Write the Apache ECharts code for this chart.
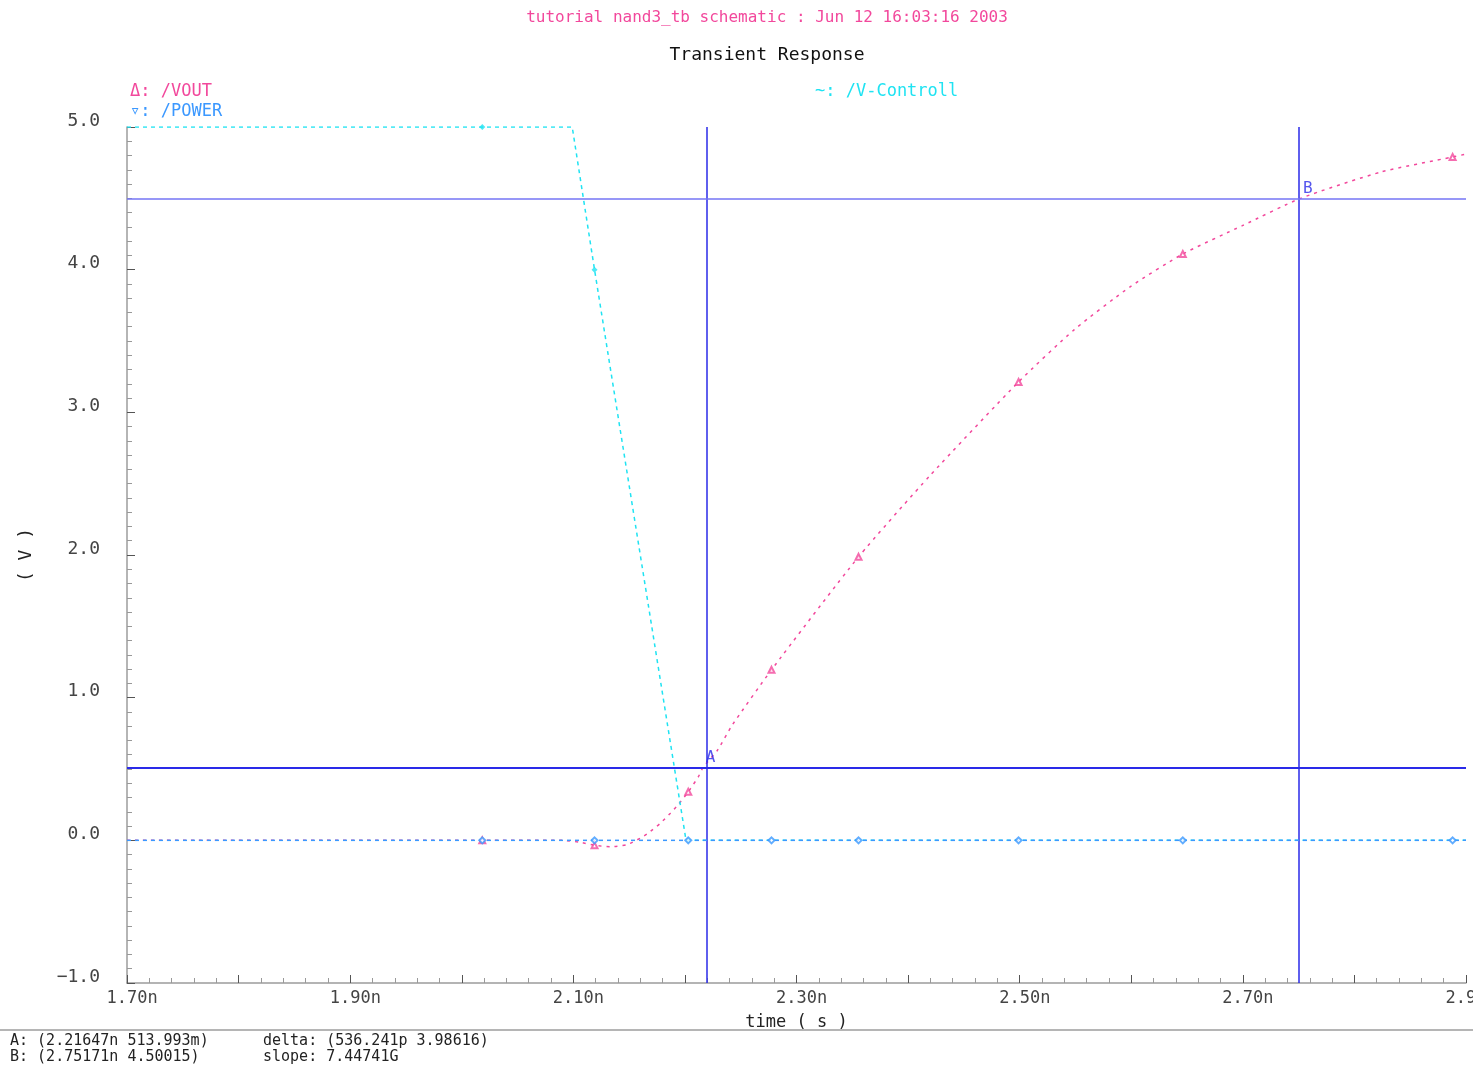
<!DOCTYPE html>
<html>
<head>
<meta charset="utf-8">
<title>Transient Response</title>
<script src="https://cdn.jsdelivr.net/npm/echarts@6/dist/echarts.min.js"></script>
<style>
  html, body { margin: 0; padding: 0; background: #fff; }
  #chart { width: 1473px; height: 1067px; }
</style>
</head>
<body>
<div id="chart"></div>
<script>
// time in ns, voltage in V
const voutTime = [1.70, 2.0184, 2.09, 2.106, 2.119, 2.133, 2.148, 2.160, 2.167, 2.178, 2.187, 2.194, 2.203, 2.212, 2.2165, 2.229, 2.2426, 2.2776, 2.3556, 2.42, 2.499, 2.549, 2.599, 2.6462, 2.70, 2.7517, 2.824, 2.888, 2.90]
const voutValue = [0, 0, 0, -0.014, -0.035, -0.045, -0.03, 0.015, 0.05, 0.12, 0.19, 0.25, 0.34, 0.445, 0.514, 0.63, 0.81, 1.195, 1.987, 2.56, 3.213, 3.58, 3.88, 4.11, 4.31, 4.50, 4.685, 4.79, 4.81]

const ctrlTime = [1.70, 2.0184, 2.099, 2.119, 2.201, 2.90]
const ctrlValue = [5, 5, 5, 4.0, 0, 0]

const powerTime = [1.70, 2.90]
const powerValue = [0, 0]

// simulation points where the viewer draws its small markers
const markerTime = [2.0184, 2.119, 2.203, 2.2776, 2.3556, 2.499, 2.6462, 2.888]
const voutMarker = [0, -0.035, 0.34, 1.195, 1.987, 3.213, 4.11, 4.79]
const ctrlMarker = [5, 4.0, 0]
const powerMarker = [0, 0, 0, 0, 0, 0, 0, 0]

// cursors A and B
const cursorA = [2.21647, 0.513993]
const cursorB = [2.75171, 4.50015]

const readouts = [
  'A: (2.21647n 513.993m)',
  'B: (2.75171n 4.50015)',
  'delta: (536.241p 3.98616)',
  'slope: 7.44741G',
]

const MONO = 'DejaVu Sans Mono'
const PINK = '#f2489c'
const CYAN = '#1fe3f2'
const BLUE = '#3b98ff'
const CURSOR = '#2a2ae8'

const zip = (xs, ys) => ys.map((y, i) => [xs[i], y])

const chart = echarts.init(document.getElementById('chart'))

const option = {
  animation: false,
  backgroundColor: '#fff',
  grid: { left: 127, right: 7, top: 127, bottom: 84, containLabel: false, outerBoundsMode: 'none' },
  xAxis: {
    type: 'value',
    min: 1.7,
    max: 2.9,
    interval: 0.1,
    name: 'time ( s )',
    nameLocation: 'middle',
    nameGap: 31,
    nameTextStyle: { fontFamily: MONO, fontSize: 17, color: '#222' },
    axisLine: { onZero: false, lineStyle: { color: '#9c9c9c', width: 1.5 } },
    axisTick: { inside: true, length: 8, lineStyle: { color: '#555' } },
    minorTick: { show: true, splitNumber: 5, length: 5, lineStyle: { color: '#999' } },
    splitLine: { show: false },
    axisLabel: {
      margin: 7,
      fontFamily: MONO,
      fontSize: 17,
      color: '#444',
      formatter: (v) => (Math.round(v * 10) % 2 === 1 ? ' ' + v.toFixed(2) + 'n' : ''),
    },
  },
  yAxis: {
    type: 'value',
    min: -1,
    max: 5,
    interval: 1,
    name: '( V )',
    nameLocation: 'middle',
    nameRotate: 90,
    nameGap: 92,
    nameTextStyle: { fontFamily: MONO, fontSize: 18, color: '#222' },
    axisLine: { show: true, onZero: false, lineStyle: { color: '#9c9c9c', width: 1.5 } },
    axisTick: { show: true, inside: true, length: 8, lineStyle: { color: '#555' } },
    minorTick: { show: true, splitNumber: 10, length: 5, lineStyle: { color: '#999' } },
    splitLine: { show: false },
    axisLabel: {
      margin: 27,
      fontFamily: MONO,
      fontSize: 18,
      color: '#444',
      verticalAlign: 'bottom',
      lineHeight: 12,
      formatter: (v) => (v < 0 ? '\u2212' + Math.abs(v).toFixed(1) : v.toFixed(1)),
    },
  },
  series: [
    {
      name: '/VOUT',
      type: 'line',
      data: zip(voutTime, voutValue),
      showSymbol: false,
      smooth: 0.2,
      lineStyle: { color: PINK, width: 1.5, type: [3, 5] },
      z: 3,
    },
    {
      name: '/V-Controll',
      type: 'line',
      data: zip(ctrlTime, ctrlValue),
      showSymbol: false,
      lineStyle: { color: CYAN, width: 1.5, type: [4, 4] },
      z: 4,
    },
    {
      name: '/POWER',
      type: 'line',
      data: zip(powerTime, powerValue),
      showSymbol: false,
      lineStyle: { color: BLUE, width: 1.5, type: [4, 4] },
      z: 5,
    },
    {
      name: 'cursors',
      type: 'line',
      data: [],
      markLine: {
        silent: true,
        symbol: ['none', 'none'],
        label: { show: false },
        data: [
          { xAxis: cursorA[0], lineStyle: { color: CURSOR, width: 1.5, type: 'solid' } },
          { yAxis: cursorA[1], lineStyle: { color: CURSOR, width: 2, type: 'solid' } },
          { xAxis: cursorB[0], lineStyle: { color: CURSOR, width: 1.5, type: 'solid' } },
          { yAxis: cursorB[1], lineStyle: { color: '#7474f4', width: 1.5, type: 'solid' } },
        ],
      },
      z: 1,
    },
    {
      name: 'vout markers',
      type: 'scatter',
      data: zip(markerTime, voutMarker),
      symbol: 'emptyTriangle',
      symbolSize: 6,
      itemStyle: { color: PINK, borderWidth: 1 },
      z: 6,
    },
    {
      name: 'ctrl markers',
      type: 'scatter',
      data: zip(markerTime, ctrlMarker),
      symbol: 'diamond',
      symbolSize: 6,
      itemStyle: { color: CYAN },
      z: 6,
    },
    {
      name: 'power markers',
      type: 'scatter',
      data: zip(markerTime, powerMarker),
      symbol: 'emptyDiamond',
      symbolSize: 6,
      itemStyle: { color: BLUE, borderWidth: 1 },
      z: 7,
    },
    {
      name: 'cursor labels',
      type: 'scatter',
      data: [
        { name: 'A', value: cursorA },
        { name: 'B', value: cursorB },
      ],
      symbolSize: 1,
      itemStyle: { color: 'rgba(0,0,0,0)' },
      label: {
        show: true,
        formatter: '{b}',
        position: [3, -17],
        fontFamily: MONO,
        fontSize: 16,
        color: CURSOR,
      },
      z: 8,
    },
  ],
  graphic: [
    {
      type: 'text', x: 767, y: 18,
      style: { text: 'tutorial nand3_tb schematic : Jun 12 16:03:16 2003', font: '16px ' + MONO, fill: PINK, textAlign: 'center', textVerticalAlign: 'middle' },
    },
    {
      type: 'text', x: 767, y: 55,
      style: { text: 'Transient Response', font: '18px ' + MONO, fill: '#111', textAlign: 'center', textVerticalAlign: 'middle' },
    },
    {
      type: 'text', x: 130, y: 92,
      style: { text: 'Δ: /VOUT', font: '17px ' + MONO, fill: PINK, textAlign: 'left', textVerticalAlign: 'middle' },
    },
    {
      type: 'text', x: 130, y: 112,
      style: { text: '▿: /POWER', font: '17px ' + MONO, fill: BLUE, textAlign: 'left', textVerticalAlign: 'middle' },
    },
    {
      type: 'text', x: 815, y: 92,
      style: { text: '~: /V-Controll', font: '17px ' + MONO, fill: CYAN, textAlign: 'left', textVerticalAlign: 'middle' },
    },
    {
      type: 'line',
      shape: { x1: 0, y1: 1030, x2: 1473, y2: 1030 },
      style: { stroke: '#9c9c9c', lineWidth: 1.5 },
    },
    {
      type: 'text', x: 10, y: 1041,
      style: { text: readouts[0], font: '15px ' + MONO, fill: '#222', textAlign: 'left', textVerticalAlign: 'middle' },
    },
    {
      type: 'text', x: 10, y: 1057,
      style: { text: readouts[1], font: '15px ' + MONO, fill: '#222', textAlign: 'left', textVerticalAlign: 'middle' },
    },
    {
      type: 'text', x: 263, y: 1041,
      style: { text: readouts[2], font: '15px ' + MONO, fill: '#222', textAlign: 'left', textVerticalAlign: 'middle' },
    },
    {
      type: 'text', x: 263, y: 1057,
      style: { text: readouts[3], font: '15px ' + MONO, fill: '#222', textAlign: 'left', textVerticalAlign: 'middle' },
    },
  ],
}

chart.setOption(option)
window.addEventListener('resize', () => chart.resize())
</script>
</body>
</html>
